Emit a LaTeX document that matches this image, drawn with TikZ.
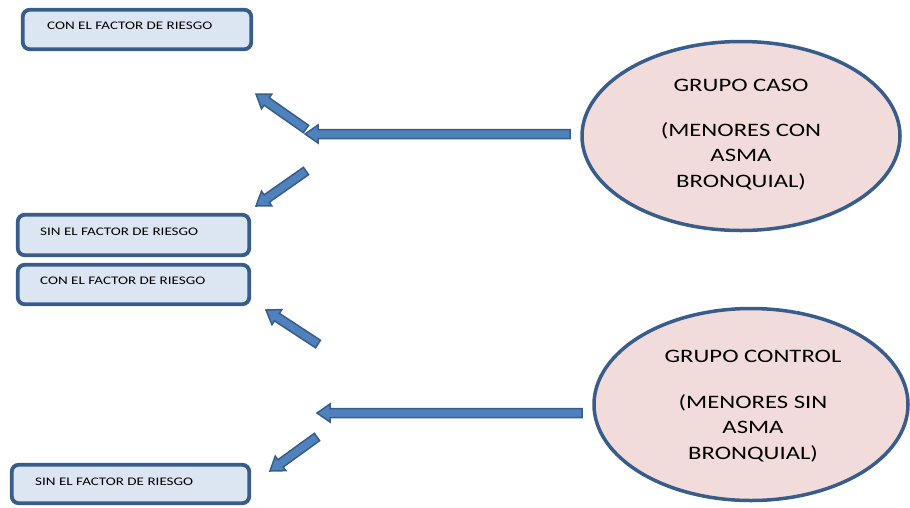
\documentclass[tikz,border=0pt]{standalone}
\usepackage{fontspec}
\setmainfont{Carlito}
\newfontfamily\widefont[FakeStretch=1.3]{Carlito}
\usetikzlibrary{calc,shapes.geometric}
\definecolor{edgeblue}{RGB}{56,93,138}
\definecolor{arrowfill}{RGB}{79,129,189}
\definecolor{boxfill}{RGB}{220,230,242}
\definecolor{ellfill}{RGB}{242,220,219}
\newcommand\blockarrow[2]{%
  \coordinate (ba) at ($(#1)!13pt!(#2)$);
  \draw[barrow] (#1) -- ($(ba)!9pt!90:(#2)$) -- ($(ba)!4.5pt!90:(#2)$)
    -- ($(#2)!4.5pt!-90:(#1)$) -- ($(#2)!4.5pt!90:(#1)$)
    -- ($(ba)!4.5pt!-90:(#2)$) -- ($(ba)!9pt!-90:(#2)$) -- cycle;}
\begin{document}
\begin{tikzpicture}[x=1pt,y=-1pt,
  box/.style={draw=edgeblue, line width=3.8pt, fill=boxfill, rounded corners=7pt, inner sep=0pt},
  lbl/.style={font=\widefont\fontsize{11.6}{13}\selectfont, inner sep=0pt, anchor=west},
  grp/.style={ellipse, draw=edgeblue, line width=3.5pt, fill=ellfill, inner sep=0pt},
  big/.style={font=\widefont\fontsize{19}{25.5}\selectfont, align=center, inner sep=0pt},
  barrow/.style={draw=edgeblue, fill=arrowfill, line width=1.5pt, line join=miter}]
\useasboundingbox (0,0) rectangle (910,507);
% boxes
\node[box, minimum width=228.5pt, minimum height=39.5pt] (b1) at (137,29.5) {};
\node[box, minimum width=231.5pt, minimum height=40.5pt] (b2) at (133.5,235) {};
\node[box, minimum width=231.5pt, minimum height=39.5pt] (b3) at (133.5,284.5) {};
\node[box, minimum width=237.5pt, minimum height=38.5pt] (b4) at (130.5,484) {};
\node[lbl] (t1) at (47,26) {CON EL FACTOR DE RIESGO};
\node[lbl] (t2) at (40,232) {SIN EL FACTOR DE RIESGO};
\node[lbl] (t3) at (40,281) {CON EL FACTOR DE RIESGO};
\node[lbl] (t4) at (35,482) {SIN EL FACTOR DE RIESGO};
% ellipses
\node[grp, minimum width=318pt, minimum height=189pt] (e1) at (741,136) {};
\node[grp, minimum width=314pt, minimum height=192pt] (e2) at (751,404.5) {};
\node[big] (g1) at (741,85.5) {GRUPO CASO};
\node[big] (m1) at (741,156) {(MENORES CON\\ASMA\\BRONQUIAL)};
\node[big] (g2) at (753,356.5) {GRUPO CONTROL};
\node[big] (m2) at (753,428) {(MENORES SIN\\ASMA\\BRONQUIAL)};
% arrow coordinates
\coordinate (h1tip) at (305,134);
\coordinate (h1tail) at (570,134);
\coordinate (u1tip) at (256,94);
\coordinate (u1tail) at (306,129);
\coordinate (d1tip) at (256,206);
\coordinate (d1tail) at (306,171);
\coordinate (h2tip) at (317,413);
\coordinate (h2tail) at (582,413);
\coordinate (u2tip) at (266,310);
\coordinate (u2tail) at (318,344);
\coordinate (d2tip) at (270,471);
\coordinate (d2tail) at (317,437);
\blockarrow{h1tip}{h1tail}
\blockarrow{u1tip}{u1tail}
\blockarrow{d1tip}{d1tail}
\blockarrow{h2tip}{h2tail}
\blockarrow{u2tip}{u2tail}
\blockarrow{d2tip}{d2tail}
\end{tikzpicture}
\end{document}
